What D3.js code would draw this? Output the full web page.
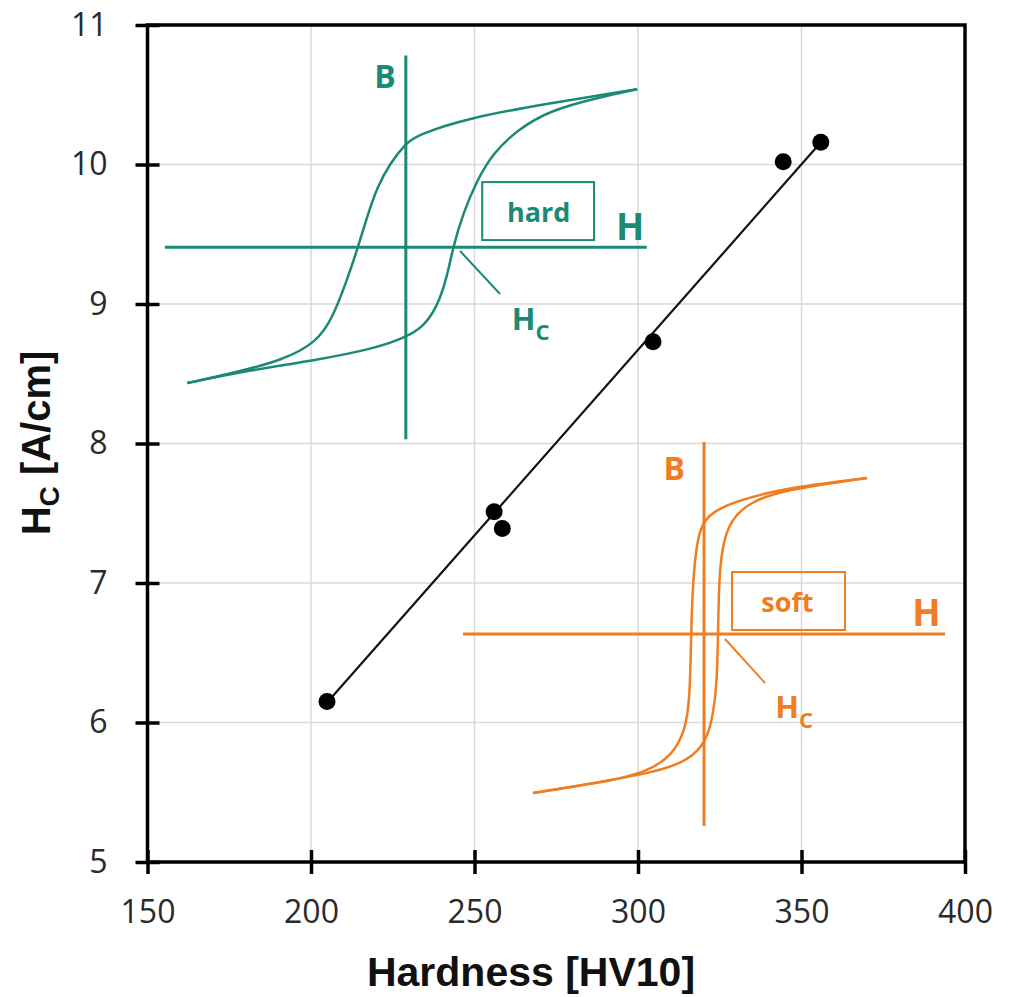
<!DOCTYPE html>
<html lang="en">
<head>
    <meta charset="UTF-8">
    <title>Hc vs hardness</title>
    <style>
        body { margin: 0; background: #fff; }
    </style>
</head>
<body>
<svg></svg>
<script src="https://d3js.org/d3.v7.min.js"></script>
<script>
    // measured points
    var hardness = [204.9, 256.0, 258.5, 304.6, 344.4, 355.9];
    var coercivity = [6.15, 7.51, 7.39, 8.73, 10.02, 10.16];
    // drawn trend line
    var trendHardness = [205.2, 355.6];
    var trendCoercivity = [6.15, 10.15];

    var xTicks = [150, 200, 250, 300, 350, 400];
    var yTicks = [5, 6, 7, 8, 9, 10, 11];

    // hysteresis sketches, normalized H/B units (-1..1)
    var hardUpper = [[0.960, 0.824], [0.599, 0.752], [0.254, 0.673], [0.047, 0.585], [0.001, 0.543],
        [-0.065, 0.439], [-0.119, 0.314], [-0.161, 0.158], [-0.198, 0.002], [-0.244, -0.170],
        [-0.302, -0.363], [-0.368, -0.493], [-0.509, -0.587], [-0.717, -0.655], [-0.907, -0.707]];
    var hardLower = [[-0.907, -0.707], [-0.646, -0.639], [-0.368, -0.587], [-0.119, -0.524], [0.001, -0.467],
        [0.072, -0.415], [0.130, -0.311], [0.171, -0.155], [0.196, 0.002], [0.238, 0.179],
        [0.296, 0.351], [0.362, 0.491], [0.462, 0.611], [0.599, 0.715], [0.807, 0.783], [0.960, 0.824]];
    var softUpper = [[0.676, 0.813], [0.328, 0.760], [0.120, 0.688], [0.037, 0.635], [-0.004, 0.583],
        [-0.029, 0.490], [-0.046, 0.281], [-0.054, 0], [-0.058, -0.292], [-0.071, -0.464],
        [-0.112, -0.604], [-0.224, -0.719], [-0.432, -0.776], [-0.710, -0.828]];
    var softLower = [[-0.710, -0.828], [-0.432, -0.771], [-0.224, -0.724], [-0.087, -0.672], [-0.004, -0.589],
        [0.033, -0.464], [0.054, -0.255], [0.058, 0], [0.062, 0.281], [0.075, 0.453],
        [0.108, 0.594], [0.191, 0.688], [0.328, 0.750], [0.676, 0.813]];

    var width = 1011;
    var height = 997;
    var margin = {top: 25, right: 46, bottom: 135, left: 147.5};
    var w = width - margin.left - margin.right;
    var h = height - margin.top - margin.bottom;

    var xScale = d3.scaleLinear().domain([150, 400]).range([0, w]);
    var yScale = d3.scaleLinear().domain([5, 11]).range([h, 0]);

    var svg = d3.select("svg")
        .attr("width", width)
        .attr("height", height);

    var g = svg.append("g")
        .attr("transform", "translate(" + margin.left + "," + margin.top + ")");

    // grid
    g.append("g").selectAll("line")
        .data(xTicks.slice(1, -1))
        .enter().append("line")
        .attr("x1", function (d) { return xScale(d); })
        .attr("x2", function (d) { return xScale(d); })
        .attr("y1", 0).attr("y2", h)
        .style("stroke", "#d9d9d9").style("stroke-width", 1.5);
    g.append("g").selectAll("line")
        .data(yTicks.slice(1, -1))
        .enter().append("line")
        .attr("y1", function (d) { return yScale(d); })
        .attr("y2", function (d) { return yScale(d); })
        .attr("x1", 0).attr("x2", w)
        .style("stroke", "#d9d9d9").style("stroke-width", 1.5);

    // hysteresis insets
    var insets = [
        {color: "#1a8a76", cx: 229.0, cy: 9.406, hw: 73.7, hh: 1.376, upper: hardUpper, lower: hardLower,
            word: "hard", bLab: [-0.086, 0.830], hLab: [0.931, 0.038], box: [0.317, 0.781, 0.340, 0.038],
            wordPos: [0.551, 0.133], lead: [0.225, -0.019, 0.391, -0.243], hcPos: [0.44, -0.431]},
        {color: "#f07d1f", cx: 320.2, cy: 6.634, hw: 73.7, hh: 1.376, upper: softUpper, lower: softLower,
            word: "soft", bLab: [-0.124, 0.802], hLab: [0.923, 0.042], box: [0.116, 0.585, 0.323, 0.021],
            wordPos: [0.346, 0.116], lead: [0.087, -0.026, 0.253, -0.255], hcPos: [0.295, -0.439]}
    ];

    insets.forEach(function (ins) {
        var hx = d3.scaleLinear().domain([-1, 1]).range([xScale(ins.cx - ins.hw), xScale(ins.cx + ins.hw)]);
        var by = d3.scaleLinear().domain([-1, 1]).range([yScale(ins.cy - ins.hh), yScale(ins.cy + ins.hh)]);
        var ig = g.append("g").style("font-family", "'Open Sans', sans-serif").style("font-weight", "bold");

        // axes of the sketch
        ig.append("line")
            .attr("x1", hx(-1)).attr("x2", hx(1)).attr("y1", by(0)).attr("y2", by(0))
            .style("stroke", ins.color).style("stroke-width", 3);
        ig.append("line")
            .attr("x1", hx(0)).attr("x2", hx(0)).attr("y1", by(-1)).attr("y2", by(1))
            .style("stroke", ins.color).style("stroke-width", 3);

        var line = d3.line()
            .x(function (d) { return hx(d[0]); })
            .y(function (d) { return by(d[1]); })
            .curve(d3.curveBasis);
        [ins.upper, ins.lower].forEach(function (branch) {
            ig.append("path")
                .attr("d", line(branch))
                .style("fill", "none")
                .style("stroke", ins.color)
                .style("stroke-width", 2.5);
        });

        ig.append("text")
            .attr("x", hx(ins.bLab[0])).attr("y", by(ins.bLab[1]))
            .style("text-anchor", "middle").style("font-size", "32px").style("fill", ins.color)
            .text("B");
        ig.append("text")
            .attr("x", hx(ins.hLab[0])).attr("y", by(ins.hLab[1]))
            .style("text-anchor", "middle").style("font-size", "37px").style("fill", ins.color)
            .text("H");

        ig.append("rect")
            .attr("x", hx(ins.box[0])).attr("y", by(ins.box[2]))
            .attr("width", hx(ins.box[1]) - hx(ins.box[0]))
            .attr("height", by(ins.box[3]) - by(ins.box[2]))
            .style("fill", "none").style("stroke", ins.color).style("stroke-width", 2);
        ig.append("text")
            .attr("x", hx(ins.wordPos[0])).attr("y", by(ins.wordPos[1]))
            .style("text-anchor", "middle").style("font-size", "27px").style("fill", ins.color)
            .text(ins.word);

        ig.append("line")
            .attr("x1", hx(ins.lead[0])).attr("y1", by(ins.lead[1]))
            .attr("x2", hx(ins.lead[2])).attr("y2", by(ins.lead[3]))
            .style("stroke", ins.color).style("stroke-width", 2);

        var hc = ig.append("text")
            .attr("x", hx(ins.hcPos[0])).attr("y", by(ins.hcPos[1]))
            .style("font-size", "31px").style("fill", ins.color);
        hc.append("tspan").text("H");
        hc.append("tspan").attr("dy", 10).style("font-size", "22px").text("C");
    });

    // trend line and points
    g.append("line")
        .attr("x1", xScale(trendHardness[0])).attr("y1", yScale(trendCoercivity[0]))
        .attr("x2", xScale(trendHardness[1])).attr("y2", yScale(trendCoercivity[1]))
        .style("stroke", "#111").style("stroke-width", 2.2);

    g.selectAll("circle")
        .data(hardness)
        .enter().append("circle")
        .attr("cx", function (d) { return xScale(d); })
        .attr("cy", function (d, i) { return yScale(coercivity[i]); })
        .attr("r", 8.5)
        .style("fill", "#000");

    // frame
    g.append("rect")
        .attr("x", 0).attr("y", 0).attr("width", w).attr("height", h)
        .style("fill", "none").style("stroke", "#000").style("stroke-width", 3.5);

    // axes with crossing ticks
    var xAxis = d3.axisBottom(xScale).tickValues(xTicks).tickFormat(d3.format("d"))
        .tickSizeOuter(0).tickSizeInner(12).tickPadding(26);
    var gx = g.append("g")
        .attr("transform", "translate(0," + h + ")")
        .call(xAxis);
    gx.select(".domain").remove();
    gx.selectAll(".tick line").attr("y1", -12).attr("y2", 12)
        .style("stroke", "#000").style("stroke-width", 3.5);

    var yAxis = d3.axisLeft(yScale).tickValues(yTicks).tickFormat(d3.format("d"))
        .tickSizeOuter(0).tickSizeInner(12).tickPadding(28);
    var gy = g.append("g").call(yAxis);
    gy.select(".domain").remove();
    gy.selectAll(".tick line").attr("x1", -12).attr("x2", 12)
        .style("stroke", "#000").style("stroke-width", 3.5);

    g.selectAll(".tick text")
        .style("font-family", "'Open Sans', sans-serif")
        .style("font-size", "32px")
        .style("fill", "#2a2a2a");

    //横坐标说明
    svg.append("text")
        .attr("x", 531)
        .attr("y", 986)
        .style("text-anchor", "middle")
        .style("font-family", "'Liberation Sans', Arial, sans-serif")
        .style("font-weight", "bold")
        .style("font-size", "41px")
        .style("fill", "#111")
        .text("Hardness [HV10]");

    //纵坐标说明
    var yt = svg.append("text")
        .attr("transform", "rotate(-90)")
        .attr("x", -443)
        .attr("y", 50)
        .style("text-anchor", "middle")
        .style("font-family", "'Liberation Sans', Arial, sans-serif")
        .style("font-weight", "bold")
        .style("font-size", "40px")
        .style("fill", "#111");
    yt.append("tspan").text("H");
    yt.append("tspan").attr("dy", 9).style("font-size", "28px").text("C");
    yt.append("tspan").attr("dy", -9).text(" [A/cm]");
</script>
</body>
</html>
